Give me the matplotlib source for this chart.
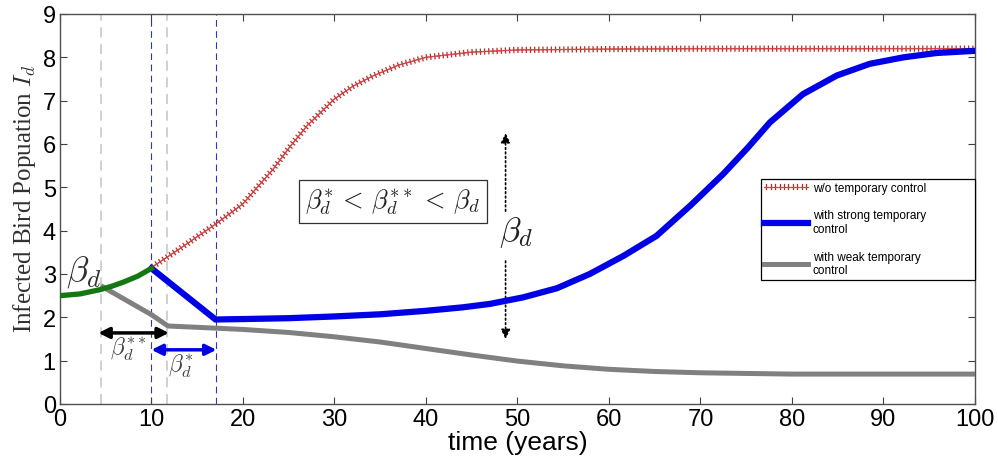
import numpy as np
import matplotlib
matplotlib.use("Agg")
from matplotlib import pyplot as plt
from matplotlib import patheffects as pe

plt.rcParams['mathtext.fontset'] = 'cm'
plt.rcParams['font.family'] = ['Liberation Sans', 'DejaVu Sans']

# values
green_t = [0, 2.2, 4.4, 5.7, 6.9, 8.5, 10]
green_y = [2.5, 2.54, 2.64, 2.72, 2.81, 2.95, 3.13]

red_t = [10, 13, 17, 20, 23.3, 25, 27, 30, 32, 34.2, 37, 40, 45, 50, 60, 70, 80, 90, 100]
red_y = [3.15, 3.57, 4.15, 4.62, 5.42, 5.9, 6.42, 7.04, 7.33, 7.57, 7.82, 8.0, 8.12,
         8.17, 8.19, 8.2, 8.2, 8.2, 8.2]

blue_t = [10, 17, 20, 25, 30, 35, 40, 44, 47, 50.6, 54.3, 57.9, 61.6, 65.2, 68.9, 72.5,
          75.2, 77.6, 81.2, 84.9, 88.5, 92.2, 95.8, 100]
blue_y = [3.13, 1.95, 1.96, 1.98, 2.02, 2.07, 2.15, 2.23, 2.31, 2.46, 2.67, 3.0, 3.42,
          3.88, 4.58, 5.31, 5.92, 6.5, 7.15, 7.58, 7.85, 8.0, 8.1, 8.15]

gray_t = [4.7, 10, 11.8, 17, 20, 25, 30, 35, 40, 45, 50, 55, 60, 65, 70, 80, 90, 100]
gray_y = [2.7, 2.06, 1.8, 1.75, 1.72, 1.65, 1.55, 1.43, 1.28, 1.13, 0.99, 0.88, 0.80,
          0.75, 0.72, 0.69, 0.69, 0.69]

gray_marks = [4.5, 11.7]
blue_marks = [10, 17]

labels = ["w/o temporary control",
          "with strong temporary\ncontrol",
          "with weak temporary\ncontrol"]

fig = plt.figure(figsize=(9.98, 4.6), dpi=100)
ax = fig.add_axes([0.0601, 0.1196, 0.9168, 0.8478])

# interval markers
for t in gray_marks:
    ax.axvline(t, color='#c8c8c8', lw=1.2, ls=(0, (6, 4)), zorder=1)
for t in blue_marks:
    ax.axvline(t, color='#3434b0', lw=0.8, ls=(0, (6, 4)), zorder=1)

ticks = [pe.withTickedStroke(spacing=3.0, angle=90, length=0.6, linewidth=0.9,
                             foreground='#c02828'),
         pe.withTickedStroke(spacing=3.0, angle=-90, length=0.6, linewidth=0.9,
                             foreground='#c02828')]
red_line, = ax.plot(red_t, red_y, color='#d04848', lw=0.8, path_effects=ticks,
                    label=labels[0], zorder=3)
blue_line, = ax.plot(blue_t, blue_y, color='#0000e6', lw=4.5, label=labels[1],
                     solid_joinstyle='round', zorder=4)
gray_line, = ax.plot(gray_t, gray_y, color='#808080', lw=3.6, label=labels[2], zorder=3)
ax.plot(green_t, green_y, color='#137813', lw=3.8, zorder=5)

# double arrows for the control windows
ax.annotate('', xy=(4.2, 1.64), xytext=(11.9, 1.64),
            arrowprops=dict(arrowstyle='<|-|>', color='black', lw=2.5, mutation_scale=16,
                            shrinkA=0, shrinkB=0))
ax.annotate('', xy=(10, 1.25), xytext=(17.1, 1.25),
            arrowprops=dict(arrowstyle='<|-|>', color='#0000e6', lw=2.5, mutation_scale=16,
                            shrinkA=0, shrinkB=0))

# dotted arrows around beta_d
ax.annotate('', xy=(48.7, 6.25), xytext=(48.7, 4.45),
            arrowprops=dict(arrowstyle='-|>', color='black', lw=1.2, ls=':',
                            mutation_scale=14, shrinkA=0, shrinkB=0))
ax.annotate('', xy=(48.7, 1.5), xytext=(48.7, 3.3),
            arrowprops=dict(arrowstyle='-|>', color='black', lw=1.2, ls=':',
                            mutation_scale=14, shrinkA=0, shrinkB=0))

ax.text(2.6, 3.06, r'$\beta_d$', fontsize=26, ha='center', va='center', color='#303030')
ax.text(7.5, 1.28, r'$\beta_d^{**}$', fontsize=17, ha='center', va='center', color='#404040')
ax.text(13.2, 0.88, r'$\beta_d^{*}$', fontsize=17, ha='center', va='center', color='#404040')
ax.text(49.8, 3.98, r'$\beta_d$', fontsize=25, ha='center', va='center', color='#202020')
ax.text(36.4, 4.67, r'$\beta_d^{*}\,<\,\beta_d^{**}\,<\,\beta_d$', fontsize=19,
        ha='center', va='center', color='#202020',
        bbox=dict(boxstyle='square,pad=0.25', fc='white', ec='#303030', lw=0.9))

ax.set_xlim(0, 100)
ax.set_ylim(0, 9)
ax.set_xticks(np.arange(0, 101, 10))
ax.set_yticks(np.arange(0, 10, 1))
ax.tick_params(direction='in', length=5, top=True, right=True, labelsize=17,
               color='#404040', pad=3)
for s in ax.spines.values():
    s.set_color('#505050')
    s.set_linewidth(1.0)

ax.set_xlabel('time (years)', fontsize=19, labelpad=0)
ax.set_ylabel(r'Infected Bird Popuation $I_d$', fontsize=18, family='Liberation Serif',
              color='#303030')
ax.yaxis.set_label_coords(-0.024, 0.53)

leg = ax.legend(handles=[red_line, blue_line, gray_line], loc='upper left',
                bbox_to_anchor=(0.766, 0.578, 0.234, 0.0), mode='expand',
                fontsize=8.5, handlelength=3.7, handletextpad=0.4, labelspacing=1.3,
                borderpad=0.3, borderaxespad=0, fancybox=False, framealpha=1)
leg.get_frame().set_edgecolor('black')
leg.get_frame().set_linewidth(0.9)

fig.savefig('out.png', dpi=100)
